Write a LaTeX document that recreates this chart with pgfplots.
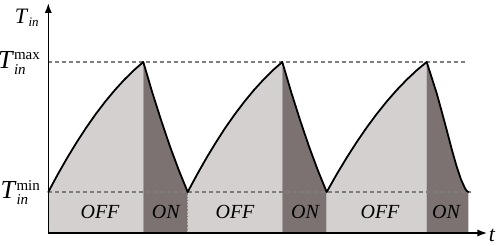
\documentclass[border=0pt]{standalone}
\usepackage{pgfplots}
\pgfplotsset{compat=1.18}
\usepackage{pgfplotstable}
\usepackage{fontspec}
\setmainfont{Liberation Serif}
\usetikzlibrary{arrows.meta}
\definecolor{offc}{RGB}{212,208,208}
\definecolor{onc}{RGB}{124,114,114}
\definecolor{dashc}{RGB}{125,125,125}
\pgfplotstableread{
x y
0 41
9.5 58.7
19 75.3
28.5 90.9
38 105.5
47.5 119
57 131.5
66.5 142.9
76 153.3
85.5 162.7
95 171
}\riseA
\pgfplotstableread{
x y
95 171
103.9 140.8
112.8 112.8
121.6 86.8
130.5 62.8
139.4 41
}\fallA
\pgfplotstableread{
x y
139.4 41
148.9 58.7
158.3 75.3
167.8 90.9
177.2 105.5
186.7 119
196.2 131.5
205.6 142.9
215.1 153.3
224.5 162.7
234 171
}\riseB
\pgfplotstableread{
x y
234 171
242.9 140.8
251.8 112.8
260.6 86.8
269.5 62.8
278.4 41
}\fallB
\pgfplotstableread{
x y
278.4 41
288.4 58.7
298.4 75.3
308.4 90.9
318.4 105.5
328.4 119
338.4 131.5
348.4 142.9
358.4 153.3
368.4 162.7
378.4 171
}\riseC
\pgfplotstableread{
x y
378.4 171
383.4 155.4
388.4 139.7
393.4 121.6
398.4 103
403.4 83.9
408.4 66.3
412.5 54
416.7 44.7
418.3 42.3
420 41
}\fallC
\begin{document}
\begin{tikzpicture}
\begin{axis}[
  x=0.5pt, y=0.5pt,
  xmin=0, xmax=439, ymin=0, ymax=230,
  axis lines=left,
  axis line style={line width=0.8pt},
  x axis line style={-{Latex[length=5pt,width=3.6pt]}},
  y axis line style={-{Latex[length=5pt,width=3.6pt]}},
  xtick=\empty, ytick=\empty,
  clip=false, axis on top,
]
\addplot[fill=offc, draw=none] table {\riseA} \closedcycle;
\addplot[fill=onc, draw=none] table {\fallA} \closedcycle;
\addplot[fill=offc, draw=none] table {\riseB} \closedcycle;
\addplot[fill=onc, draw=none] table {\fallB} \closedcycle;
\addplot[fill=offc, draw=none] table {\riseC} \closedcycle;
\addplot[fill=onc, draw=none] table {\fallC} \closedcycle;
\addplot[dashc, line width=0.6pt, dash pattern=on 2pt off 1.5pt] coordinates {(0,41) (423,41)};
\addplot[dashc, line width=0.6pt, dash pattern=on 2pt off 1.5pt] coordinates {(0,171) (417,171)};
\addplot[dashc, line width=0.6pt, densely dotted] coordinates {(139.4,0) (139.4,41)};
\pgfplotsset{cycle list={}}
\addplot[black, line width=0.9pt, line join=round, line cap=round] table {\riseA};
\addplot[black, line width=0.9pt, line join=round, line cap=round] table {\fallA};
\addplot[black, line width=0.9pt, line join=round, line cap=round] table {\riseB};
\addplot[black, line width=0.9pt, line join=round, line cap=round] table {\fallB};
\addplot[black, line width=0.9pt, line join=round, line cap=round] table {\riseC};
\addplot[black, line width=0.9pt, line join=round, line cap=round] table {\fallC};
\node[font=\fontsize{10}{12}\selectfont\itshape] at (axis cs:51.7,21.5) {OFF};
\node[font=\fontsize{10}{12}\selectfont\itshape] at (axis cs:117.4,21.5) {ON};
\node[font=\fontsize{10}{12}\selectfont\itshape] at (axis cs:186.7,21.5) {OFF};
\node[font=\fontsize{10}{12}\selectfont\itshape] at (axis cs:256.7,21.5) {ON};
\node[font=\fontsize{10}{12}\selectfont\itshape] at (axis cs:331.7,21.5) {OFF};
\node[font=\fontsize{10}{12}\selectfont\itshape] at (axis cs:397.7,21.5) {ON};
\node[anchor=east, inner sep=0pt, font=\fontsize{13}{15}\selectfont] at (axis cs:-7,170) {\textit{T}$^{\mbox{\fontsize{7.5}{8}\selectfont max}}_{\mbox{\fontsize{7.5}{8}\selectfont\itshape in}}$};
\node[anchor=east, inner sep=0pt, font=\fontsize{13}{15}\selectfont] at (axis cs:-7,40.5) {\textit{T}$^{\mbox{\fontsize{7.5}{8}\selectfont min}}_{\mbox{\fontsize{7.5}{8}\selectfont\itshape in}}$};
\node[inner sep=0pt, font=\fontsize{11}{13}\selectfont] at (axis cs:-21,215) {\textit{T}$_{\mbox{\fontsize{6.5}{7}\selectfont\itshape in}}$};
\node[inner sep=0pt, font=\fontsize{11}{13}\selectfont\itshape] at (axis cs:443.7,-2) {t};
\coordinate (bl) at (axis cs:-48.3,-13);
\coordinate (tr) at (axis cs:449.7,233);
\end{axis}
\pgfresetboundingbox
\path (bl) rectangle (tr);
\end{tikzpicture}
\end{document}
